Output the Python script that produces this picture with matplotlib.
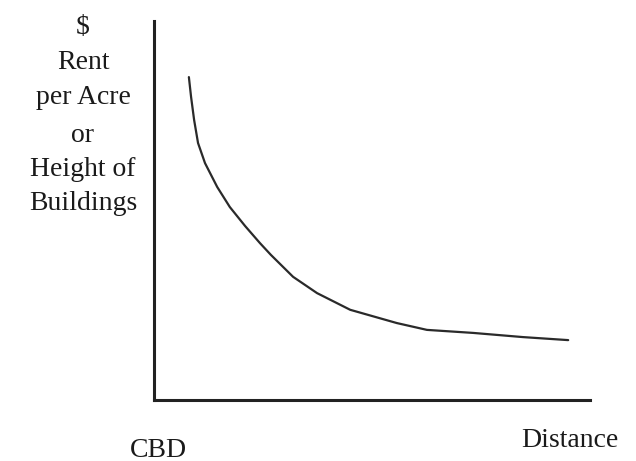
import matplotlib.pyplot as plt

# bid-rent style curve (axes units 0-100)
distance = [8.0, 8.5, 9.2, 10.1, 11.7, 14.5, 17.4, 20.9, 24.3, 26.8, 31.9,
            37.4, 45.0, 55.7, 62.6, 73.2, 84.6, 95.0]
rent = [85.2, 80.0, 73.9, 67.8, 62.5, 56.2, 50.9, 45.9, 41.4, 38.3, 32.5,
        28.2, 23.8, 20.3, 18.5, 17.7, 16.6, 15.8]

ylabel_lines = ["$", "Rent", "per Acre", "or", "Height of", "Buildings"]
x_start = "CBD"
x_end = "Distance"

plt.rcParams['font.family'] = ['Liberation Serif', 'DejaVu Serif']

W, H = 636, 461
fig = plt.figure(figsize=(W / 100, H / 100), dpi=100)
ax = fig.add_axes([154 / W, 1 - 400 / H, (590 - 154) / W, (400 - 21) / H])

ax.plot(distance, rent, color="#2a2a2a", lw=1.6,
        solid_capstyle="round", solid_joinstyle="round")
ax.set_xlim(0, 100)
ax.set_ylim(0, 100)

for side in ["top", "right"]:
    ax.spines[side].set_visible(False)
for side in ["left", "bottom"]:
    ax.spines[side].set_linewidth(2.2)
    ax.spines[side].set_color("#222222")
ax.set_xticks([])
ax.set_yticks([])

# stacked y label on the left
ys = [27, 62, 98, 135, 170, 203]
for txt, y in zip(ylabel_lines, ys):
    fig.text(83 / W, 1 - y / H, txt, ha="center", va="center", fontsize=20, color="#1a1a1a")

fig.text(158 / W, 1 - 450 / H, x_start, ha="center", va="center", fontsize=20, color="#1a1a1a")
fig.text(570 / W, 1 - 440 / H, x_end, ha="center", va="center", fontsize=20, color="#1a1a1a")

fig.savefig("out.png", dpi=100)
